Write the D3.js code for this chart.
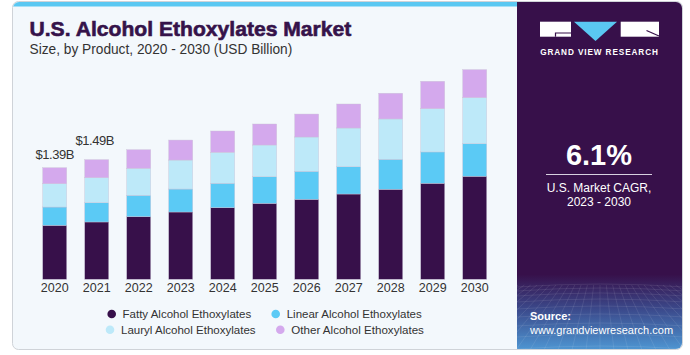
<!DOCTYPE html>
<html><head><meta charset="utf-8">
<script src="https://cdn.jsdelivr.net/npm/d3@7"></script>
<style>
html,body{margin:0;padding:0;background:#fff;}
svg{display:block;font-family:"Liberation Sans",Arial,sans-serif;}
</style></head>
<body>
<svg id="chart" width="690" height="355"></svg>
<script>
// ---- data ----
const years = ["2020","2021","2022","2023","2024","2025","2026","2027","2028","2029","2030"];
const fatty  = [0.672,0.714,0.780,0.838,0.892,0.946,0.996,1.062,1.121,1.196,1.283];
const linear = [0.228,0.240,0.266,0.286,0.304,0.331,0.349,0.340,0.374,0.390,0.406];
const lauryl = [0.290,0.311,0.336,0.361,0.386,0.395,0.427,0.482,0.502,0.539,0.573];
const other  = [0.200,0.225,0.232,0.249,0.265,0.262,0.286,0.299,0.320,0.341,0.349];
const seriesNames = ["Fatty Alcohol Ethoxylates","Linear Alcohol Ethoxylates","Lauryl Alcohol Ethoxylates","Other Alcohol Ethoxylates"];
const seriesKeys = ["fatty","linear","lauryl","other"];
const colors = ["#37104a","#5bcaf5","#bde9f9","#d4a9ed"];
const annotationYears = ["2020","2021"];
const annotationLabels = ["$1.39B","$1.49B"];
const cagr = "6.1%";

// label placement (style)
const annOffsets = [{dx:0, dy:-9},{dx:-2, dy:-15}];

const rows = years.map((y,i)=>({year:y, fatty:fatty[i], linear:linear[i], lauryl:lauryl[i], other:other[i]}));
const stack = d3.stack().keys(seriesKeys)(rows);

const svg = d3.select("#chart");
const defs = svg.append("defs");

// ---- card ----
svg.append("rect").attr("x",12.5).attr("y",1.5).attr("width",670).attr("height",348).attr("rx",6)
  .attr("fill","#f3f8fc").attr("stroke","#cfd3d8").attr("stroke-width",1);
const clip = defs.append("clipPath").attr("id","cardclip");
clip.append("rect").attr("x",13).attr("y",2).attr("width",669).attr("height",347).attr("rx",6);
const card = svg.append("g").attr("clip-path","url(#cardclip)");
card.append("rect").attr("x",13).attr("y",1).attr("width",504).attr("height",5.5).attr("fill","#5ac8f2");

// right panel
const grad = defs.append("linearGradient").attr("id","pgrad").attr("x1",0).attr("y1",0).attr("x2",0).attr("y2",1);
grad.append("stop").attr("offset","0%").attr("stop-color","#37104a");
grad.append("stop").attr("offset","78%").attr("stop-color","#37104a");
grad.append("stop").attr("offset","88%").attr("stop-color","#3b4a8c");
grad.append("stop").attr("offset","100%").attr("stop-color","#4f9ad6");
card.append("rect").attr("x",517).attr("y",0).attr("width",170).attr("height",352).attr("fill","url(#pgrad)");

// grid decoration
const gridG = card.append("g").attr("stroke","#ffffff").attr("stroke-opacity",0.13).attr("stroke-width",0.7).attr("fill","none");
const vanishX = 600;
for (let k=-14;k<=14;k++){
  const bx = 600 + k*14;
  gridG.append("line").attr("x1",vanishX + (bx-vanishX)*0.45).attr("y1",285).attr("x2",bx).attr("y2",350);
}
[287,291,296,302,309,317,326,337,349].forEach(yy=>{
  gridG.append("path").attr("d",`M517,${yy} Q600,${yy-6} 685,${yy}`);
});

// logo
const logo = svg.append("g");
logo.append("rect").attr("x",540).attr("y",21.7).attr("width",31).attr("height",15).attr("fill","#fff");
logo.append("path").attr("d","M571,33 L555.5,33 L555.5,36.7").attr("stroke","#37104a").attr("stroke-width",1.2).attr("fill","none");
logo.append("path").attr("d","M574,21.7 L617,21.7 L595.5,41 Z").attr("fill","#5ac8f2");
logo.append("rect").attr("x",620.7).attr("y",21.7).attr("width",38.3).attr("height",15).attr("fill","#fff");
logo.append("path").attr("d","M646.5,30.5 L659,36").attr("stroke","#37104a").attr("stroke-width",1.2);
logo.append("text").attr("x",599.5).attr("y",54.5).attr("text-anchor","middle").attr("fill","#fff")
  .attr("font-size",8.2).attr("font-weight","bold").attr("letter-spacing",0.9).text("GRAND VIEW RESEARCH");

// CAGR
svg.append("text").attr("x",599).attr("y",165).attr("text-anchor","middle").attr("fill","#fff")
  .attr("font-size",29).attr("font-weight","bold").text(cagr);
svg.append("line").attr("x1",546).attr("x2",652).attr("y1",174.5).attr("y2",174.5).attr("stroke","#d8d0e0").attr("stroke-width",1);
svg.append("text").attr("x",599).attr("y",192).attr("text-anchor","middle").attr("fill","#fff").attr("font-size",12).text("U.S. Market CAGR,");
svg.append("text").attr("x",599).attr("y",206).attr("text-anchor","middle").attr("fill","#fff").attr("font-size",12).text("2023 - 2030");

svg.append("text").attr("x",530).attr("y",320).attr("fill","#fff").attr("font-size",11).attr("font-weight","bold").text("Source:");
svg.append("text").attr("x",530).attr("y",334).attr("fill","#fff").attr("font-size",11).text("www.grandviewresearch.com");

// fit helper
function fit(sel, w){
  const n = sel.node(); const cur = n.getComputedTextLength();
  const fs = parseFloat(sel.attr("font-size"));
  sel.attr("font-size", (fs*w/cur).toFixed(2));
}

// title
const title = svg.append("text").attr("x",29.5).attr("y",36).attr("fill","#35134a").attr("font-size",19)
  .attr("font-weight","bold").attr("stroke","#35134a").attr("stroke-width",0.6).text("U.S. Alcohol Ethoxylates Market");
fit(title, 322);
const sub = svg.append("text").attr("x",29.5).attr("y",54).attr("fill","#333").attr("font-size",13)
  .text("Size, by Product, 2020 - 2030 (USD Billion)");
fit(sub, 263);

// scales
const x = d3.scaleBand().domain(years).range([33.7,495.7]).paddingInner(0.4286).paddingOuter(0.2143);
const y = d3.scaleLinear().domain([0,3]).range([279.3, 38.4]);

// bars
const barG = svg.append("g");
stack.forEach((layer, li)=>{
  barG.append("g").selectAll("rect").data(layer).join("rect")
    .attr("x", d=>x(d.data.year))
    .attr("y", d=>y(d[1]))
    .attr("width", x.bandwidth())
    .attr("height", d=>y(d[0])-y(d[1]))
    .attr("fill", colors[li])
    .attr("stroke", "#c9c3d6").attr("stroke-width",0.5).attr("stroke-opacity",0.8);
});

// x axis
const xAxis = d3.axisBottom(x).tickSize(0).tickPadding(0);
const ax = svg.append("g").attr("transform","translate(0,283)").call(xAxis);
ax.select(".domain").remove();
ax.selectAll("text").attr("font-size",12.5).attr("fill","#333").attr("font-family","Liberation Sans, Arial, sans-serif")
  .attr("dy","0.75em");

// annotations
const totals = rows.map(r=>r.fatty+r.linear+r.lauryl+r.other);
annotationYears.forEach((yr,k)=>{
  const i = years.indexOf(yr);
  svg.append("text").attr("x", x(yr)+x.bandwidth()/2 + annOffsets[k].dx).attr("y", y(totals[i]) + annOffsets[k].dy)
    .attr("text-anchor","middle").attr("fill","#333").attr("font-size",13).attr("letter-spacing",-0.5).text(annotationLabels[k]);
});

// legend
const legPos = [[111.7,314,122.5],[275.7,314,286.7],[110,329.7,121],[280.3,329.7,291.3]];
const legW = [128.7,135.3,134.7,132.7];
seriesNames.forEach((n,i)=>{
  const [cx,cy,tx] = legPos[i];
  svg.append("circle").attr("cx",cx).attr("cy",cy).attr("r",4.3).attr("fill",colors[i]);
  const t = svg.append("text").attr("x",tx).attr("y",cy+4).attr("fill","#333").attr("font-size",11.5).text(n);
  fit(t, legW[i]);
});
</script>
</body></html>
